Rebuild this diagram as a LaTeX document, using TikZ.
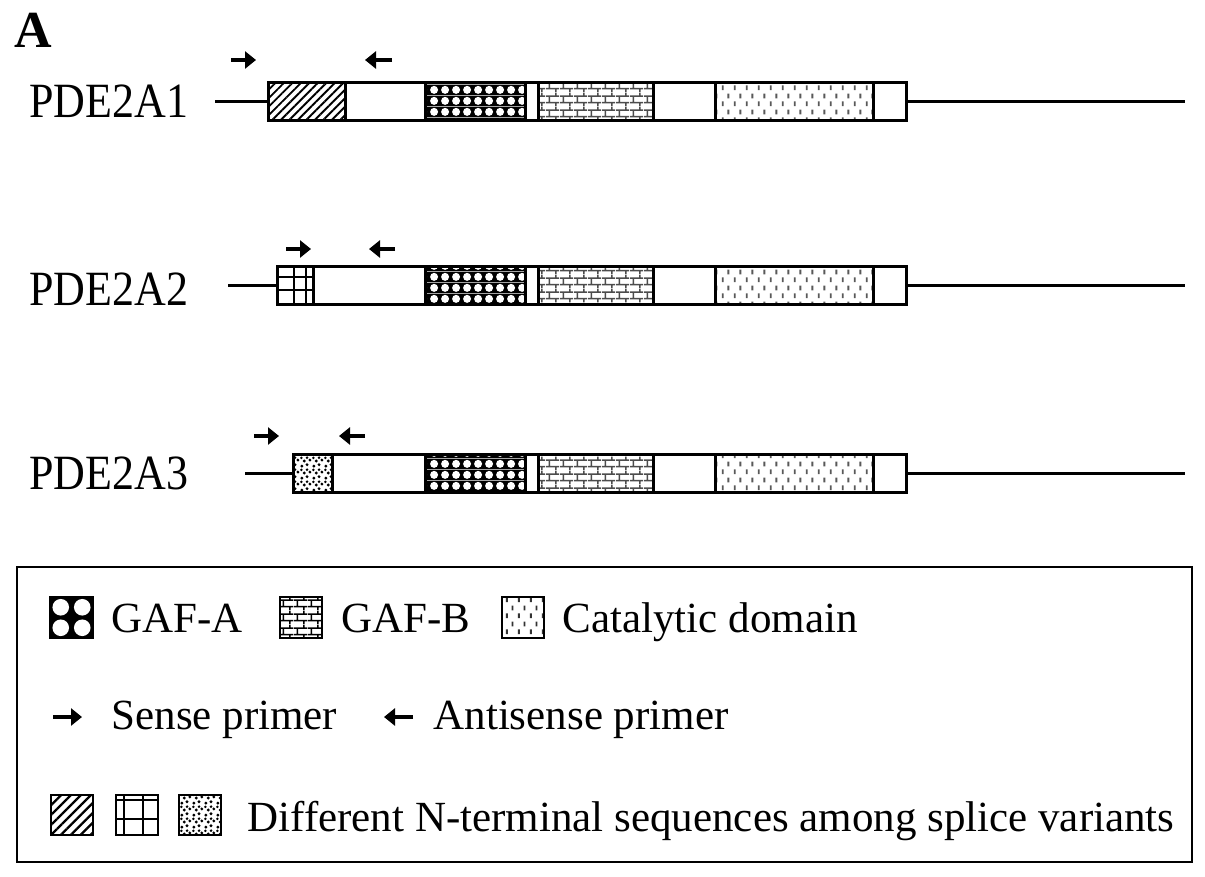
\documentclass[tikz,border=0pt]{standalone}
\usepackage{fontspec}
\setmainfont{Liberation Serif}
\usetikzlibrary{patterns,patterns.meta,arrows.meta}

\pgfdeclarepatterninherentlycolored{gafa}{\pgfpointorigin}{\pgfqpoint{11pt}{11pt}}{\pgfqpoint{11pt}{11pt}}{%
  \pgfsetfillcolor{black}\pgfpathrectangle{\pgfpointorigin}{\pgfqpoint{11pt}{11pt}}\pgfusepath{fill}%
  \pgfsetfillcolor{white}\pgfpathcircle{\pgfqpoint{5.5pt}{5.5pt}}{4.3pt}\pgfusepath{fill}}

\pgfdeclarepatternformonly{brick}{\pgfpointorigin}{\pgfqpoint{14pt}{14pt}}{\pgfqpoint{14pt}{14pt}}{%
  \pgfsetlinewidth{1.6pt}%
  \pgfpathmoveto{\pgfqpoint{0pt}{3.5pt}}\pgfpathlineto{\pgfqpoint{14pt}{3.5pt}}%
  \pgfpathmoveto{\pgfqpoint{0pt}{10.5pt}}\pgfpathlineto{\pgfqpoint{14pt}{10.5pt}}%
  \pgfpathmoveto{\pgfqpoint{3.5pt}{3.5pt}}\pgfpathlineto{\pgfqpoint{3.5pt}{10.5pt}}%
  \pgfpathmoveto{\pgfqpoint{10.5pt}{10.5pt}}\pgfpathlineto{\pgfqpoint{10.5pt}{14pt}}%
  \pgfpathmoveto{\pgfqpoint{10.5pt}{0pt}}\pgfpathlineto{\pgfqpoint{10.5pt}{3.5pt}}%
  \pgfusepath{stroke}}

\pgfdeclarepatternformonly{catdash}{\pgfpointorigin}{\pgfqpoint{12pt}{16pt}}{\pgfqpoint{12pt}{16pt}}{%
  \pgfsetlinewidth{2pt}%
  \pgfpathmoveto{\pgfqpoint{3pt}{2pt}}\pgfpathlineto{\pgfqpoint{3pt}{7pt}}%
  \pgfpathmoveto{\pgfqpoint{9pt}{10pt}}\pgfpathlineto{\pgfqpoint{9pt}{15pt}}%
  \pgfusepath{stroke}}

\pgfdeclarepatternformonly{stipple}{\pgfpointorigin}{\pgfqpoint{12pt}{12pt}}{\pgfqpoint{12pt}{12pt}}{%
  \pgfpathcircle{\pgfqpoint{2pt}{2pt}}{1.7pt}%
  \pgfpathcircle{\pgfqpoint{7.5pt}{3.5pt}}{1.7pt}%
  \pgfpathcircle{\pgfqpoint{10.5pt}{8.5pt}}{1.7pt}%
  \pgfpathcircle{\pgfqpoint{4.5pt}{7.5pt}}{1.7pt}%
  \pgfpathcircle{\pgfqpoint{1.5pt}{10.8pt}}{1.5pt}%
  \pgfpathcircle{\pgfqpoint{7.5pt}{11pt}}{1.5pt}%
  \pgfusepath{fill}}

\tikzset{
  seg/.style={draw, line width=3pt},
  boxnode/.style={draw, line width=3pt, minimum height=38pt, inner sep=0pt},
  strand/.style={line width=3pt},
  primer/.style={line width=4.5pt, -{Triangle[length=11pt,width=17pt]}},
  lbl/.style={font=\fontsize{44}{50}\selectfont, anchor=base west, yscale=1.12},
  legtxt/.style={font=\fontsize{43}{48}\selectfont, anchor=base west},
  legicon/.style={draw, line width=2.6pt},
}

\newcommand\domainsrow[1]{%
  \draw[seg, pattern=gafa] (425,{#1-19}) rectangle (525,{#1+19});
  \draw[seg, pattern=brick, pattern color=black!70] (538,{#1-19}) rectangle (653,{#1+19});
  \draw[seg, pattern=catdash, pattern color=black!65] (715,{#1-19}) rectangle (873,{#1+19});
}

\begin{document}
\begin{tikzpicture}[x=1pt, y=-1pt]
\useasboundingbox (0,0) rectangle (1205,876);
\fill[white] (0,0) rectangle (1205,876);

\node[font=\fontsize{52}{56}\bfseries\selectfont, anchor=base west] (panel) at (11,47) {A};

% ---------- Row 1 ----------
\node[lbl] (name1) at (26,117) {PDE2A1};
\draw[seg, pattern={Lines[angle=45,distance=6pt,line width=1.9pt]}] (268,82) rectangle (345,120);
\domainsrow{101}
\node[boxnode, minimum width=638pt] (box1) at (587,101) {};
\coordinate (s1) at (215,101);
\coordinate (e1) at (1185,101);
\draw[strand] (s1) -- (box1.west);
\draw[strand] (box1.east) -- (e1);
\coordinate (p1a) at (231,60); \coordinate (p1b) at (256,60);
\coordinate (p1c) at (392,60); \coordinate (p1d) at (365,60);
\draw[primer] (p1a) -- (p1b);
\draw[primer] (p1c) -- (p1d);

% ---------- Row 2 ----------
\node[lbl] (name2) at (26,305) {PDE2A2};
\draw[seg] (277,266) rectangle (313,304);
\draw[line width=2pt] (294,266) -- (294,304);
\draw[line width=2pt] (306,266) -- (306,304);
\draw[line width=2pt] (277,277) -- (313,277);
\draw[line width=2pt] (277,290) -- (313,290);
\domainsrow{285}
\node[boxnode, minimum width=629pt] (box2) at (591.5,285) {};
\coordinate (s2) at (228,285);
\coordinate (e2) at (1185,285);
\draw[strand] (s2) -- (box2.west);
\draw[strand] (box2.east) -- (e2);
\coordinate (p2a) at (286,249); \coordinate (p2b) at (311,249);
\coordinate (p2c) at (395,249); \coordinate (p2d) at (369,249);
\draw[primer] (p2a) -- (p2b);
\draw[primer] (p2c) -- (p2d);

% ---------- Row 3 ----------
\node[lbl] (name3) at (26,489) {PDE2A3};
\draw[seg, pattern=stipple] (293,454) rectangle (332,492);
\domainsrow{473}
\node[boxnode, minimum width=613pt] (box3) at (599.5,473) {};
\coordinate (s3) at (245,473);
\coordinate (e3) at (1185,473);
\draw[strand] (s3) -- (box3.west);
\draw[strand] (box3.east) -- (e3);
\coordinate (p3a) at (254,436); \coordinate (p3b) at (279,436);
\coordinate (p3c) at (365,436); \coordinate (p3d) at (339,436);
\draw[primer] (p3a) -- (p3b);
\draw[primer] (p3c) -- (p3d);

% ---------- Legend ----------
\node[draw, line width=2.6pt, minimum width=1175pt, minimum height=295pt, inner sep=0pt] (legend) at (604.5,714.5) {};

% GAF-A icon
\fill[black] (50,597) rectangle (93,638);
\begin{scope}
  \clip (50,597) rectangle (93,638);
  \fill[white] (60.75,607.25) circle (8.3);
  \fill[white] (82.25,607.25) circle (8.3);
  \fill[white] (60.75,627.75) circle (8.3);
  \fill[white] (82.25,627.75) circle (8.3);
\end{scope}
\draw[legicon] (50,597) rectangle (93,638);
\node[legtxt] (tgafa) at (108,632) {GAF-A};

\draw[legicon, pattern=brick] (280,597) rectangle (322,638);
\node[legtxt] (tgafb) at (338,632) {GAF-B};

\draw[legicon, pattern=catdash, pattern color=black!80] (502,597) rectangle (544,638);
\node[legtxt] (tcat) at (559,632) {Catalytic domain};

\coordinate (ls1) at (53,717); \coordinate (ls2) at (82,717);
\draw[primer] (ls1) -- (ls2);
\node[legtxt] (tsense) at (108,729) {Sense primer};
\coordinate (la1) at (413,717); \coordinate (la2) at (384,717);
\draw[primer] (la1) -- (la2);
\node[legtxt] (tanti) at (430,729) {Antisense primer};

\draw[legicon, pattern={Lines[angle=45,distance=7pt,line width=2.3pt]}] (51,795) rectangle (93,835);
\draw[legicon] (116,795) rectangle (158,835);
\draw[line width=2.4pt] (124,795) -- (124,835);
\draw[line width=2.4pt] (143,795) -- (143,835);
\draw[line width=2.4pt] (116,800) -- (158,800);
\draw[line width=2.4pt] (116,819) -- (158,819);
\draw[legicon, pattern=stipple] (179,795) rectangle (221,835);
\node[legtxt] (tnterm) at (244,831) {Different N-terminal sequences among splice variants};
\end{tikzpicture}
\end{document}
